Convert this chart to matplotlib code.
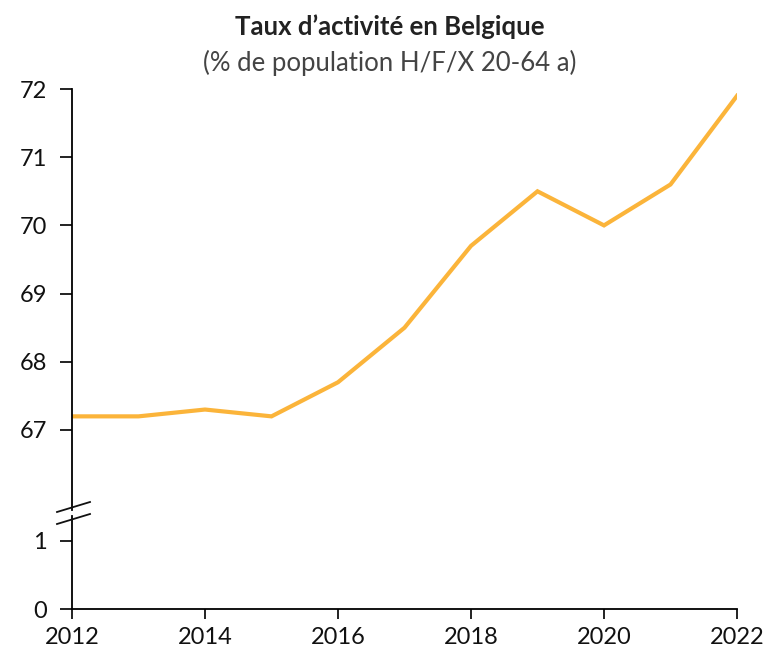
import matplotlib.pyplot as plt
from matplotlib.lines import Line2D

years = [2012, 2013, 2014, 2015, 2016, 2017, 2018, 2019, 2020, 2021, 2022]
rate = [67.2, 67.2, 67.3, 67.2, 67.7, 68.5, 69.7, 70.5, 70.0, 70.6, 71.9]
top_ticks = [67, 68, 69, 70, 71, 72]
bottom_ticks = [0, 1]
x_ticks = [2012, 2014, 2016, 2018, 2020, 2022]

title = "Taux d\u2019activit\u00e9 en Belgique"
subtitle = "(% de population H/F/X 20-64 a)"
color = "#FBB43A"

plt.rcParams['font.family'] = ['Lato', 'DejaVu Sans']

W, H = 769, 655
fig = plt.figure(figsize=(W / 100, H / 100), dpi=100)


def fx(px):
    return px / W


def fy(py):
    return 1 - py / H


left, right = fx(72), fx(737)
ax_top = fig.add_axes([left, fy(510), right - left, fy(89) - fy(510)])
ax_bot = fig.add_axes([left, fy(609), right - left, fy(516) - fy(609)])

ax_top.plot(years, rate, color=color, lw=3.0, solid_joinstyle='miter')
ax_top.set_ylim(72 - (510 - 89) / 68.2, 72)
ax_bot.set_ylim(0, (609 - 516) / 68.2)

for ax in (ax_top, ax_bot):
    ax.set_xlim(2012, 2022)
    for s in ('top', 'right'):
        ax.spines[s].set_visible(False)
    ax.spines['left'].set_linewidth(1.3)
    ax.tick_params(axis='y', direction='out', length=9, width=1.3,
                   labelsize=17, pad=9, colors='#111111')

ax_top.spines['bottom'].set_visible(False)
ax_top.set_yticks(top_ticks)
ax_top.set_xticks([])

ax_bot.spines['bottom'].set_linewidth(1.3)
ax_bot.set_yticks(bottom_ticks)
ax_bot.set_xticks(x_ticks)
ax_bot.tick_params(axis='x', direction='out', length=7, width=1.3,
                   labelsize=17, pad=6, colors='#111111')

# break marks
for y0 in (512, 524):
    fig.add_artist(Line2D([fx(57), fx(90)], [fy(y0), fy(y0 - 10)],
                          transform=fig.transFigure, color='#111111', lw=1.3))

fig.text(fx(390), fy(27), title, ha='center', va='center',
         fontsize=18.5, fontweight='bold', color='#222222')
fig.text(fx(390), fy(63), subtitle, ha='center', va='center',
         fontsize=18.5, fontweight='normal', color='#444444')

fig.savefig('out.png', dpi=100)
